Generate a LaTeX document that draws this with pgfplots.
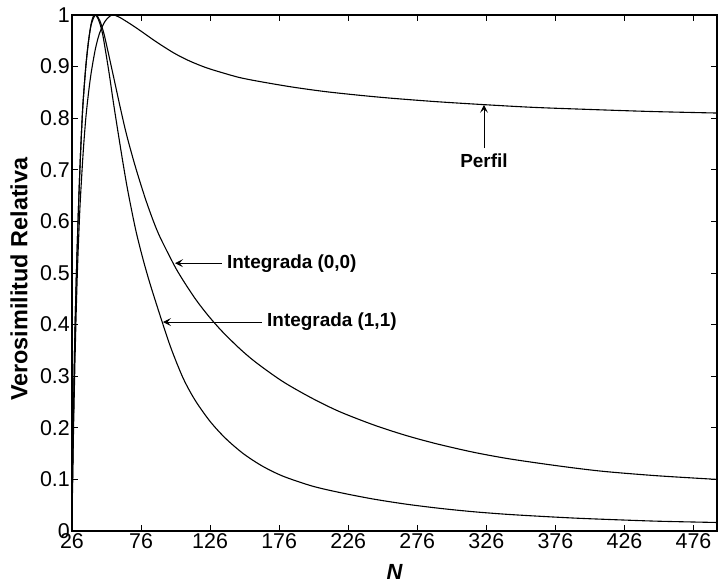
\documentclass[border=0pt]{standalone}
\usepackage{fontspec}
\setmainfont{Liberation Sans}
\usepackage{pgfplots}
\pgfplotsset{compat=1.18}
\usetikzlibrary{arrows.meta}

\begin{document}
\begin{tikzpicture}
\begin{axis}[
  scale only axis, width=645bp, height=516bp,
  xmin=26, xmax=493, ymin=0, ymax=1,
  xtick={26,76,126,176,226,276,326,376,426,476},
  ytick={0,0.1,0.2,0.3,0.4,0.5,0.6,0.7,0.8,0.9,1},
  tick align=inside, tick pos=both, major tick length=6bp,
  axis line style={line width=1.1bp},
  every tick/.style={black, line width=0.9bp},
  /pgf/number format/assume math mode=true,
  /pgf/number format/fixed,
  ticklabel style={font=\fontsize{21.5}{24}\selectfont},
  yticklabel style={inner sep=2bp},
  xticklabel style={inner sep=2bp},
  xlabel={\bfseries\itshape N},
  xlabel style={at={(axis description cs:0.5,-0.0795)}, anchor=center,
    font=\fontsize{22}{24}\selectfont},
  ylabel={Verosimilitud Relativa},
  ylabel style={at={(axis description cs:-0.082,0.488)}, anchor=center,
    font=\bfseries\fontsize{23.5}{26}\selectfont},
  curve/.style={black, line width=1.1bp, smooth, mark=none},
]
% Integrada (1,1)
\addplot[curve] coordinates {
  (26,0.03)(27,0.22)(28,0.37)(29,0.48)(30,0.57)(31,0.65)(32,0.72)(33,0.78)
  (34,0.83)(36,0.90)(38,0.95)(40,0.985)(42,1.0)(44,0.997)(46,0.985)(48,0.965)
  (50,0.935)(53,0.885)(56,0.83)(59.5,0.77)(63,0.712)(66.5,0.658)(72,0.585)
  (77,0.531)(82.4,0.480)(91.3,0.405)(98,0.352)(106.5,0.296)(115,0.254)
  (125.8,0.213)(137,0.180)(150,0.150)(164,0.1255)(179,0.106)(200,0.087)
  (220,0.0745)(244,0.062)(268,0.052)(292,0.044)(316,0.0375)(340,0.0325)
  (365,0.0285)(390,0.025)(413,0.0225)(450,0.019)(493,0.0165)};
% Integrada (0,0)
\addplot[curve] coordinates {
  (26,0.03)(27,0.22)(28,0.37)(29,0.48)(30,0.57)(31,0.65)(32,0.72)(33,0.78)
  (34,0.83)(36,0.90)(38,0.95)(40,0.982)(43,1.0)(46,0.99)(49,0.965)(52,0.93)
  (56.6,0.874)(61,0.82)(65.6,0.767)(72,0.705)(79,0.645)(85,0.60)(90,0.568)
  (100,0.515)(105,0.492)(110,0.471)(115,0.451)(120,0.433)(126,0.413)
  (135,0.386)(148,0.352)(160,0.325)(179,0.289)(200,0.257)(220,0.231)
  (245,0.205)(268,0.185)(290,0.169)(316,0.153)(340,0.141)(365,0.131)
  (390,0.122)(413,0.115)(450,0.107)(493,0.100)};
% Perfil
\addplot[curve] coordinates {
  (26,0.02)(27,0.18)(28,0.31)(29,0.42)(30,0.51)(31,0.58)(32,0.64)(34,0.73)
  (36,0.80)(38,0.85)(40,0.89)(43,0.935)(46,0.965)(50,0.988)(55,1.0)(60,0.996)
  (66,0.9865)(75,0.9705)(87,0.948)(100,0.926)(111,0.911)(123,0.898)(135,0.888)
  (147,0.879)(160,0.872)(184,0.861)(208,0.852)(232,0.845)(256,0.839)
  (290,0.832)(326,0.826)(360,0.821)(400,0.817)(445,0.813)(493,0.810)};

\begin{scope}[every node/.style={font=\bfseries\fontsize{19}{21}\selectfont, inner sep=0pt},
  arr/.style={-{Stealth[length=8bp,width=8bp,inset=3.5bp]}, line width=0.8bp}]
\draw[arr] (axis cs:324.3,0.742) -- (axis cs:324.3,0.826);
\node[anchor=center] at (axis cs:324.3,0.717) {Perfil};
\draw[arr] (axis cs:134.6,0.519) -- (axis cs:100.6,0.519);
\node[anchor=west] at (axis cs:138.2,0.519) {Integrada (0,0)};
\draw[arr] (axis cs:163.6,0.405) -- (axis cs:91.9,0.405);
\node[anchor=west] at (axis cs:167.2,0.405) {Integrada (1,1)};
\end{scope}
\end{axis}
\pgfresetboundingbox
\path ([shift={(-72bp,-52bp)}]current axis.south west)
  rectangle ([shift={(1bp,15bp)}]current axis.north east);
\end{tikzpicture}
\end{document}
